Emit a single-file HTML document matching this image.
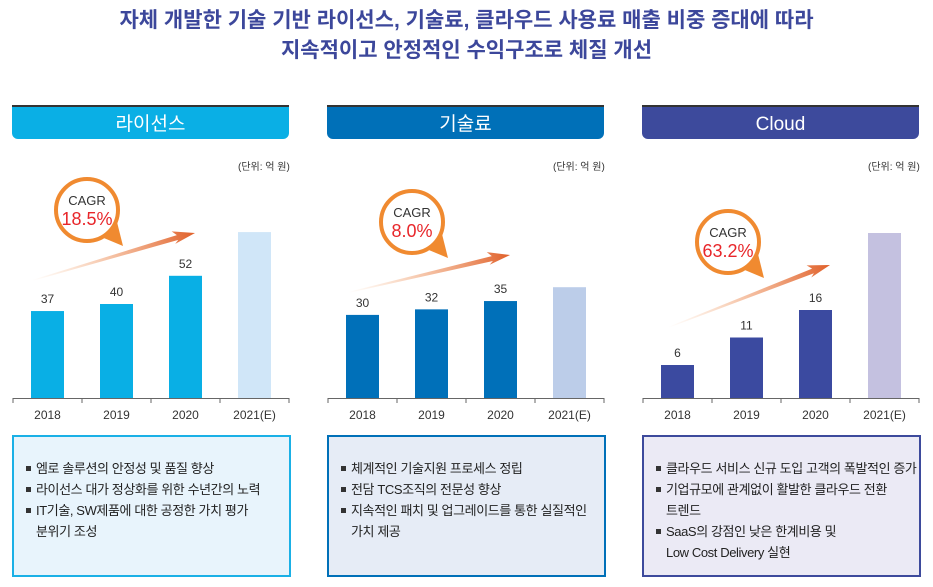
<!DOCTYPE html>
<html><head><meta charset="utf-8"><style>
body{margin:0;width:933px;height:587px;background:#fff;font-family:"Liberation Sans","Noto Sans CJK KR",sans-serif;overflow:hidden;position:relative}
.title{position:absolute;left:0;width:933px;text-align:center;color:#3c479b;font-weight:bold;font-size:21px;line-height:30px}
.hdr{position:absolute;top:105px;height:32px;width:277px;border-top:2px solid #333;border-radius:0 0 6px 6px;color:#fff;text-align:center;font-size:19px;line-height:36px}
.box{position:absolute;top:435px;width:279px;height:142px;border:2px solid;box-sizing:border-box;padding:21px 0 0 10px;font-size:13px;color:#222;line-height:21px;white-space:nowrap;letter-spacing:-0.4px}
.box div{padding-left:12px;position:relative}
.box div::before{content:"";position:absolute;left:2px;top:8px;width:5px;height:5px;background:#333}
.unit{position:absolute;top:158px;font-size:10px;color:#333}
</style></head><body>
<div class="title" style="top:6px">자체 개발한 기술 기반 라이선스, 기술료, 클라우드 사용료 매출 비중 증대에 따라</div>
<div class="title" style="top:36px">지속적이고 안정적인 수익구조로 체질 개선</div>

<div class="hdr" style="left:12px;background:#0aafe5">라이선스</div>
<div class="hdr" style="left:327px;background:#0070b8">기술료</div>
<div class="hdr" style="left:642px;background:#3d4a9c">Cloud</div>

<div class="unit" style="left:238px">(단위: 억 원)</div>
<div class="unit" style="left:553px">(단위: 억 원)</div>
<div class="unit" style="left:868px">(단위: 억 원)</div>

<svg id="chart" width="933" height="587" style="position:absolute;left:0;top:0">
<defs>
<linearGradient id="ag" x1="0" y1="0" x2="1" y2="0"><stop offset="0" stop-color="#f4a060" stop-opacity="0"/><stop offset="1" stop-color="#e0602a"/></linearGradient>
</defs>
</svg>

<div class="box" style="left:12px;background:#e8f4fc;border-color:#1ab0e6">
<div>엠로 솔루션의 안정성 및 품질 향상</div>
<div>라이선스 대가 정상화를 위한 수년간의 노력</div>
<div>IT기술, SW제품에 대한 공정한 가치 평가<br>분위기 조성</div>
</div>
<div class="box" style="left:327px;background:#e6ecf6;border-color:#0070b8">
<div>체계적인 기술지원 프로세스 정립</div>
<div>전담 TCS조직의 전문성 향상</div>
<div>지속적인 패치 및 업그레이드를 통한 실질적인<br>가치 제공</div>
</div>
<div class="box" style="left:642px;background:#ebeaf5;border-color:#3d4a9c">
<div>클라우드 서비스 신규 도입 고객의 폭발적인 증가</div>
<div>기업규모에 관계없이 활발한 클라우드 전환<br>트렌드</div>
<div>SaaS의 강점인 낮은 한계비용 및<br>Low Cost Delivery 실현</div>
</div>

<script>
const categories = ["2018","2019","2020","2021(E)"];
const licenseValues = [37,40,52,70.6];
const techValues = [30,32,35,40];
const cloudValues = [6,11,16,30];
const valueLabels1 = ["37","40","52",""];
const valueLabels2 = ["30","32","35",""];
const valueLabels3 = ["6","11","16",""];
const cagrs = ["18.5%","8.0%","63.2%"];

const svg = document.getElementById('chart');
const NS = 'http://www.w3.org/2000/svg';
function mk(tag, attrs){const e=document.createElementNS(NS,tag);for(const k in attrs)e.setAttribute(k,attrs[k]);svg.appendChild(e);return e;}

const panels = [
 {x0:12, vals:licenseValues, labs:valueLabels1, scale:2.35, c:"#09afe5", lc:"#d0e6f8", cagr:cagrs[0], bub:[87,210], arr:[32,280,195,233]},
 {x0:327, vals:techValues, labs:valueLabels2, scale:2.77, c:"#0070b9", lc:"#bccde9", cagr:cagrs[1], bub:[412,222], arr:[348,292,510,255]},
 {x0:642, vals:cloudValues, labs:valueLabels3, scale:5.5, c:"#3b4aa0", lc:"#c4c1e0", cagr:cagrs[2], bub:[728,242], arr:[668,327,830,265]}
];
const base = 398;
panels.forEach((p,pi)=>{
  const xs = i => p.x0 + 19 + i*69;
  const ys = v => base - v*p.scale;
  const ax = mk('line',{x1:p.x0+1,x2:p.x0+277,y1:base+0.5,y2:base+0.5,stroke:'#666','stroke-width':1});
  
  
  for(let i=0;i<=4;i++){
    const tx = p.x0+1+i*69;
    const t = mk('line',{x1:tx,x2:tx,y1:base,y2:base+5,stroke:'#666'});
    
    
  }
  p.vals.forEach((v,i)=>{
    const r = mk('rect',{x:xs(i),y:ys(v),width:33,height:v*p.scale,fill:i==3?p.lc:p.c});
    
    
    if(p.labs[i]){
      const t = mk('text',{x:xs(i)+16.5,y:ys(v)-8,'text-anchor':'middle','font-size':12,fill:'#333'});
      t.textContent=p.labs[i];
      
      
    }
    const c = mk('text',{x:xs(i)+16.5,y:base+21,'text-anchor':'middle','font-size':12,fill:'#333'});
    c.textContent=categories[i];
    
    
  });
  const [x1,y1,x2,y2]=p.arr;
  const ang=Math.atan2(y2-y1,x2-x1), L=Math.hypot(x2-x1,y2-y1);
  const g = mk('polygon',{points:`0,0 ${L-18},-3 ${L-22},-8 ${L},0 ${L-22},5 ${L-18},2 0,1`,fill:'url(#ag)',transform:`translate(${x1},${y1}) rotate(${ang*180/Math.PI})`});
  
  
  const [bx,by]=p.bub;
  const tail = mk('polygon',{points:`${bx+12},${by+26} ${bx+30},${by+12} ${bx+36},${by+36}`,fill:'#f08a30'});
  
  
  const circ = mk('circle',{cx:bx,cy:by,r:31,fill:'#fff',stroke:'#f08a30','stroke-width':4});
  
  
  const t1 = mk('text',{x:bx,y:by-5,'text-anchor':'middle','font-size':13,fill:'#333'});
  t1.textContent='CAGR';
  
  
  const t2 = mk('text',{x:bx,y:by+15,'text-anchor':'middle','font-size':18,fill:'#e8262a'});
  t2.textContent=p.cagr;
  
  
});
</script>
</body></html>
